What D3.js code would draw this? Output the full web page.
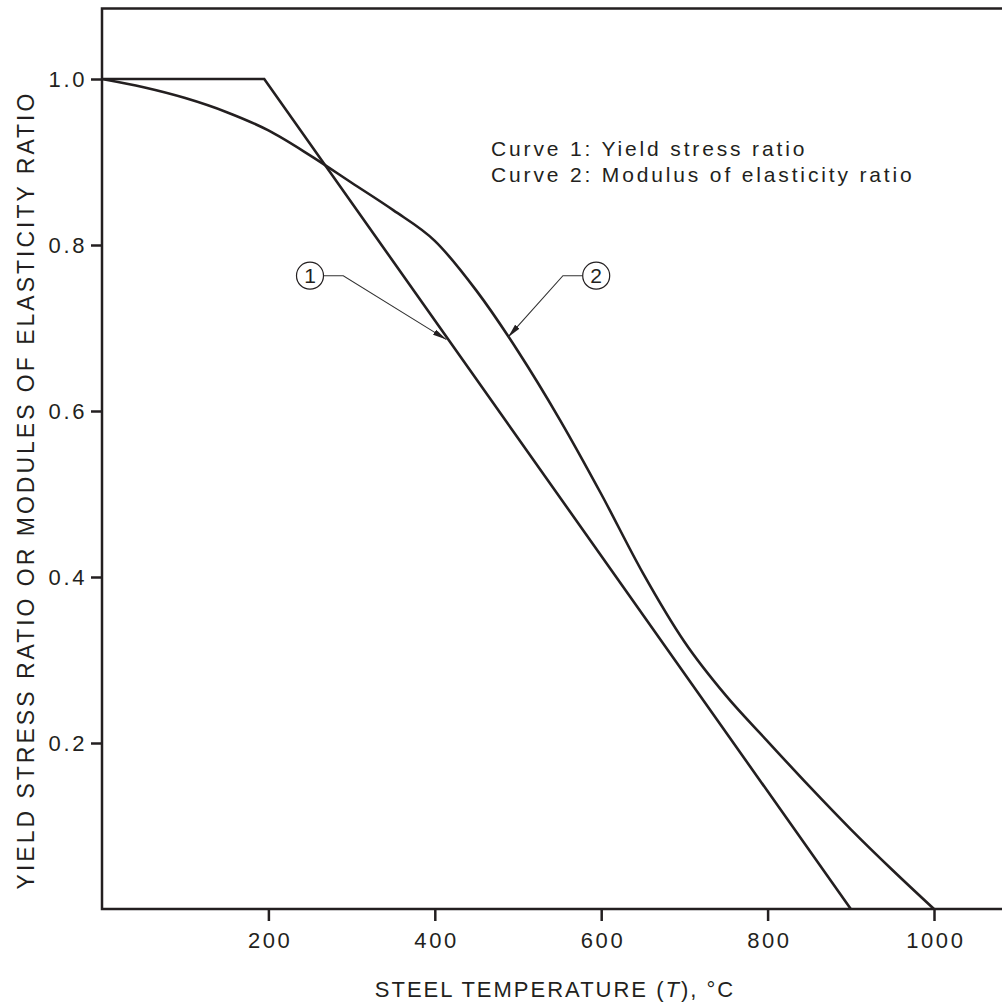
<!DOCTYPE html>
<html>
<head>
<meta charset="utf-8">
<script src="https://cdn.jsdelivr.net/npm/d3@7"></script>
<style>
  body { margin: 0; background: #fff; }
  svg { display: block; font-family: "Liberation Sans", Arial, sans-serif; }
</style>
</head>
<body>
<script>
// steel temperature (deg C) and ratios
var yieldTemps = [0, 195, 900];
var yieldRatio = [1.0, 1.0, 0.0];

var modulusTemps = [0, 50, 100, 150, 200, 250, 300, 350, 400, 450, 500, 550, 600, 650, 700, 750, 800, 850, 900, 950, 1000];
var modulusRatio = [1.0, 0.990, 0.977, 0.960, 0.938, 0.908, 0.875, 0.842, 0.805, 0.745, 0.672, 0.590, 0.500, 0.405, 0.322, 0.257, 0.202, 0.148, 0.096, 0.047, 0.0];

var xTicks = [200, 400, 600, 800, 1000];
var yTicks = [0.2, 0.4, 0.6, 0.8, 1.0];

var legendLines = ["Curve 1: Yield stress ratio", "Curve 2: Modulus of elasticity ratio"];

// callouts: circled number, elbow and arrow tip (data units)
var calloutLabels = ["1", "2"];
var calloutCircleT = [250, 594];
var calloutElbowT = [290, 554];
var calloutLevel = [0.763, 0.763];
var calloutTipT = [414, 488];
var calloutTipV = [0.686, 0.689];

var svgWidth = 1002, svgHeight = 1004;
var ink = "#231f20";

var svg = d3.select("body").append("svg")
  .attr("width", svgWidth)
  .attr("height", svgHeight);

var xScale = d3.scaleLinear().domain([0, 1000]).range([102, 934]);
var yScale = d3.scaleLinear().domain([0, 1]).range([909, 79]);

// frame (right side runs off the picture)
var x0 = xScale(0), x1 = xScale(1095), yTop = yScale(1.085), yBot = yScale(0);
svg.append("path")
  .attr("d", `M${x1},${yTop}H${x0}V${yBot}H${x1}`)
  .attr("fill", "none")
  .attr("stroke", ink)
  .attr("stroke-width", 2.5);

// axes
var yAxis = d3.axisLeft(yScale).tickValues(yTicks).tickSize(11).tickPadding(6).tickFormat(d3.format(".1f"));
var xAxis = d3.axisBottom(xScale).tickValues(xTicks).tickSize(12).tickPadding(11).tickFormat(d3.format("d"));

var gy = svg.append("g").attr("transform", `translate(${x0},0)`).call(yAxis);
var gx = svg.append("g").attr("transform", `translate(0,${yBot})`).call(xAxis);

[gx, gy].forEach(function(g) {
  g.select(".domain").remove();
  g.selectAll(".tick line").attr("stroke", ink).attr("stroke-width", 2.5);
  g.selectAll(".tick text")
    .attr("fill", ink)
    .style("font-size", "22px")
    .style("letter-spacing", "2.6px")
    .style("font-family", "'Liberation Sans', Arial, sans-serif");
});
gx.selectAll(".tick text").attr("dx", "1.3px");
gy.selectAll(".tick text").attr("dx", "2px");

// curves
var line = d3.line()
  .x(d => xScale(d[0]))
  .y(d => yScale(d[1]));

svg.append("path")
  .datum(d3.zip(yieldTemps, yieldRatio))
  .attr("d", line.curve(d3.curveLinear))
  .attr("fill", "none")
  .attr("stroke", ink)
  .attr("stroke-width", 2.6);

svg.append("path")
  .datum(d3.zip(modulusTemps, modulusRatio))
  .attr("d", line.curve(d3.curveMonotoneX))
  .attr("fill", "none")
  .attr("stroke", ink)
  .attr("stroke-width", 2.6);

// arrow marker
svg.append("defs").append("marker")
  .attr("id", "arrow")
  .attr("viewBox", "0 0 14 6")
  .attr("refX", 14).attr("refY", 3)
  .attr("markerWidth", 14).attr("markerHeight", 6)
  .attr("markerUnits", "userSpaceOnUse")
  .attr("orient", "auto")
  .append("path")
  .attr("d", "M0,0L14,3L0,6Z")
  .attr("fill", ink);

var r = 13.5;
calloutLabels.forEach(function(lab, i) {
  var cx = xScale(calloutCircleT[i]), cy = yScale(calloutLevel[i]);
  var ex = xScale(calloutElbowT[i]);
  var side = ex > cx ? 1 : -1;
  svg.append("path")
    .attr("d", `M${cx + side * r},${cy}H${ex}L${xScale(calloutTipT[i])},${yScale(calloutTipV[i])}`)
    .attr("fill", "none")
    .attr("stroke", "#333")
    .attr("stroke-width", 1.1)
    .attr("marker-end", "url(#arrow)");
  svg.append("circle")
    .attr("cx", cx).attr("cy", cy).attr("r", r)
    .attr("fill", "#fff")
    .attr("stroke", ink)
    .attr("stroke-width", 1.2);
  svg.append("text")
    .attr("x", cx).attr("y", cy + 7.5)
    .attr("text-anchor", "middle")
    .attr("fill", ink)
    .style("font-size", "21px")
    .text(lab);
});

// legend text
svg.append("g").selectAll("text")
  .data(legendLines)
  .enter()
  .append("text")
  .attr("x", 491)
  .attr("y", (d, i) => 156 + i * 26)
  .attr("fill", ink)
  .style("font-size", "21px")
  .style("letter-spacing", "2.85px")
  .text(d => d);

// axis titles
var xt = svg.append("text")
  .attr("x", 555).attr("y", 997)
  .attr("text-anchor", "middle")
  .attr("fill", ink)
  .style("font-size", "22px")
  .style("letter-spacing", "2px");
xt.append("tspan").text("STEEL TEMPERATURE (");
xt.append("tspan").style("font-style", "italic").text("T");
xt.append("tspan").text("), °C");

svg.append("text")
  .attr("transform", "translate(34,490) rotate(-90)")
  .attr("text-anchor", "middle")
  .attr("fill", ink)
  .style("font-size", "23px")
  .style("letter-spacing", "3px")
  .text("YIELD STRESS RATIO OR MODULES OF ELASTICITY RATIO");
</script>
</body>
</html>
